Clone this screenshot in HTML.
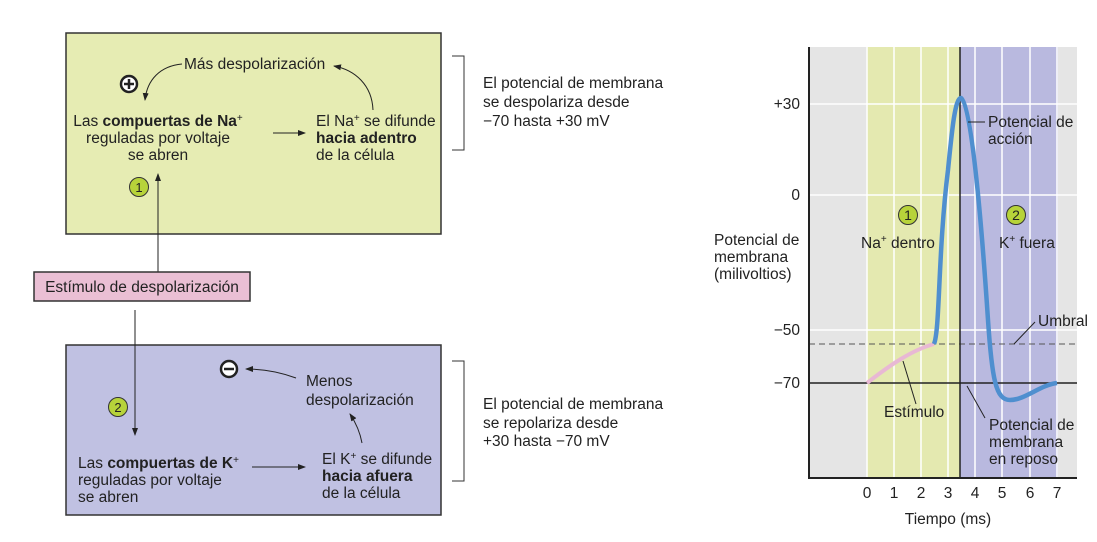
<!DOCTYPE html>
<html><head><meta charset="utf-8"><style>
body{margin:0;background:#fff}
svg{display:block;font-family:"Liberation Sans",sans-serif;font-size:15.5px;fill:#222}
</style></head><body>
<svg width="1097" height="542" viewBox="0 0 1097 542">
<defs><marker id="a" markerWidth="8" markerHeight="8" refX="7" refY="4" orient="auto" markerUnits="userSpaceOnUse"><path d="M0,1 L8,4 L0,7 Z" fill="#222"/></marker></defs>
<!-- top box -->
<rect x="66" y="33" width="375" height="201" fill="#e6ecb3" stroke="#333" stroke-width="1.5"/>
<text x="184" y="69">Más despolarización</text>
<path d="M182,64 C160,66 147,80 145,100" fill="none" stroke="#222" marker-end="url(#a)"/>
<path d="M373,110 C372,85 355,70 334,66" fill="none" stroke="#222" marker-end="url(#a)"/>
<circle cx="129" cy="84" r="8" fill="#fff" stroke="#222" stroke-width="2.5"/>
<path d="M124,84h10M129,79v10" stroke="#222" stroke-width="2.5"/>
<text x="158" y="126" text-anchor="middle">Las <tspan font-weight="bold">compuertas de Na</tspan><tspan font-size="10" dy="-5">+</tspan></text>
<text x="158" y="143" text-anchor="middle">reguladas por voltaje</text>
<text x="158" y="160" text-anchor="middle">se abren</text>
<line x1="273" y1="133" x2="305" y2="133" stroke="#222" marker-end="url(#a)"/>
<text x="316" y="126">El Na<tspan font-size="10" dy="-5">+</tspan><tspan dy="5"> se difunde</tspan></text>
<text x="316" y="143" font-weight="bold">hacia adentro</text>
<text x="316" y="160">de la célula</text>
<circle cx="139" cy="187" r="9.5" fill="#b7d33a" stroke="#333"/>
<text x="139" y="192" text-anchor="middle" font-size="13">1</text>
<line x1="158" y1="272" x2="158" y2="174" stroke="#222" marker-end="url(#a)"/>
<!-- pink -->
<rect x="34" y="272" width="216" height="29" fill="#eabfd4" stroke="#333" stroke-width="1.5"/>
<text x="142" y="292" text-anchor="middle">Estímulo de despolarización</text>
<!-- bottom box -->
<rect x="66" y="345" width="375" height="170" fill="#c0c1e2" stroke="#333" stroke-width="1.5"/>
<line x1="135" y1="310" x2="135" y2="435" stroke="#222" marker-end="url(#a)"/>
<circle cx="229" cy="369" r="8" fill="#fff" stroke="#222" stroke-width="2.5"/>
<path d="M224,369h10" stroke="#222" stroke-width="2.5"/>
<path d="M296,378 C280,372 263,369 246,369" fill="none" stroke="#222" marker-end="url(#a)"/>
<text x="306" y="386">Menos</text>
<text x="306" y="405">despolarización</text>
<path d="M362,443 C360,432 356,423 350,414" fill="none" stroke="#222" marker-end="url(#a)"/>
<circle cx="118" cy="407" r="9.5" fill="#b7d33a" stroke="#333"/>
<text x="118" y="412" text-anchor="middle" font-size="13">2</text>
<text x="78" y="468">Las <tspan font-weight="bold">compuertas de K</tspan><tspan font-size="10" dy="-5">+</tspan></text>
<text x="78" y="485">reguladas por voltaje</text>
<text x="78" y="502">se abren</text>
<line x1="252" y1="467" x2="305" y2="467" stroke="#222" marker-end="url(#a)"/>
<text x="322" y="464">El K<tspan font-size="10" dy="-5">+</tspan><tspan dy="5"> se difunde</tspan></text>
<text x="322" y="481" font-weight="bold">hacia afuera</text>
<text x="322" y="498">de la célula</text>
<!-- brackets -->
<path d="M452,56h12v94h-12" fill="none" stroke="#333"/>
<text x="483" y="88">El potencial de membrana</text>
<text x="483" y="107">se despolariza desde</text>
<text x="483" y="126">−70 hasta +30 mV</text>
<path d="M452,361h12v120h-12" fill="none" stroke="#333"/>
<text x="483" y="409">El potencial de membrana</text>
<text x="483" y="428">se repolariza desde</text>
<text x="483" y="446">+30 hasta −70 mV</text>
<!-- chart -->
<rect x="809" y="47" width="268" height="431" fill="#e5e5e5"/>
<rect x="867" y="47" width="93" height="431" fill="#e4e9b0"/>
<rect x="960" y="47" width="98" height="431" fill="#b9b9df"/>
<g stroke="#fff" stroke-width="1.5">
<line x1="894" y1="47" x2="894" y2="478"/><line x1="921" y1="47" x2="921" y2="478"/><line x1="948" y1="47" x2="948" y2="478"/><line x1="975" y1="47" x2="975" y2="478"/><line x1="1002" y1="47" x2="1002" y2="478"/><line x1="1030" y1="47" x2="1030" y2="478"/><line x1="867" y1="47" x2="867" y2="478"/><line x1="1057" y1="47" x2="1057" y2="478"/>
<line x1="809" y1="104" x2="1077" y2="104"/><line x1="809" y1="195" x2="1077" y2="195"/><line x1="809" y1="330" x2="1077" y2="330"/>
</g>
<line x1="809" y1="344" x2="1077" y2="344" stroke="#555" stroke-dasharray="6,4"/>
<line x1="809" y1="383" x2="1077" y2="383" stroke="#222" stroke-width="1.5"/>
<line x1="960" y1="47" x2="960" y2="478" stroke="#222" stroke-width="1.5"/>
<path d="M809,47V478H1077" fill="none" stroke="#222" stroke-width="2"/>
<path d="M867,383 C890,365 912,350 934,344" fill="none" stroke="#e8b8d4" stroke-width="4"/>
<path d="M934,344 C940,330 938,250 948,170 C952,130 955,98 961,98 C970,100 980,200 988,320 C992,380 996,400 1010,400 C1025,400 1040,385 1057,383" fill="none" stroke="#4f8fcf" stroke-width="4.5" stroke-linejoin="round"/>
<g text-anchor="end"><text x="800" y="109">+30</text><text x="800" y="200">0</text><text x="800" y="335">−50</text><text x="800" y="388">−70</text></g>
<text x="714" y="245">Potencial de</text><text x="714" y="262">membrana</text><text x="714" y="279">(milivoltios)</text>
<g text-anchor="middle"><text x="867" y="498">0</text><text x="894" y="498">1</text><text x="921" y="498">2</text><text x="948" y="498">3</text><text x="975" y="498">4</text><text x="1002" y="498">5</text><text x="1030" y="498">6</text><text x="1057" y="498">7</text>
<text x="948" y="524">Tiempo (ms)</text></g>
<circle cx="908" cy="215" r="9.5" fill="#b7d33a" stroke="#333"/><text x="908" y="220" text-anchor="middle" font-size="14">1</text>
<circle cx="1016" cy="215" r="9.5" fill="#b7d33a" stroke="#333"/><text x="1016" y="220" text-anchor="middle" font-size="14">2</text>
<text x="861" y="248">Na<tspan font-size="10" dy="-6">+</tspan><tspan dy="6"> dentro</tspan></text>
<text x="999" y="248">K<tspan font-size="10" dy="-6">+</tspan><tspan dy="6"> fuera</tspan></text>
<line x1="968" y1="122" x2="985" y2="122" stroke="#222"/>
<text x="988" y="127">Potencial de</text><text x="988" y="144">acción</text>
<line x1="1014" y1="344" x2="1035" y2="322" stroke="#222"/>
<text x="1038" y="326">Umbral</text>
<line x1="903" y1="361" x2="916" y2="404" stroke="#222"/>
<text x="884" y="417">Estímulo</text>
<line x1="967" y1="386" x2="985" y2="418" stroke="#222"/>
<text x="989" y="430">Potencial de</text><text x="989" y="447">membrana</text><text x="989" y="464">en reposo</text>
</svg>
</body></html>
